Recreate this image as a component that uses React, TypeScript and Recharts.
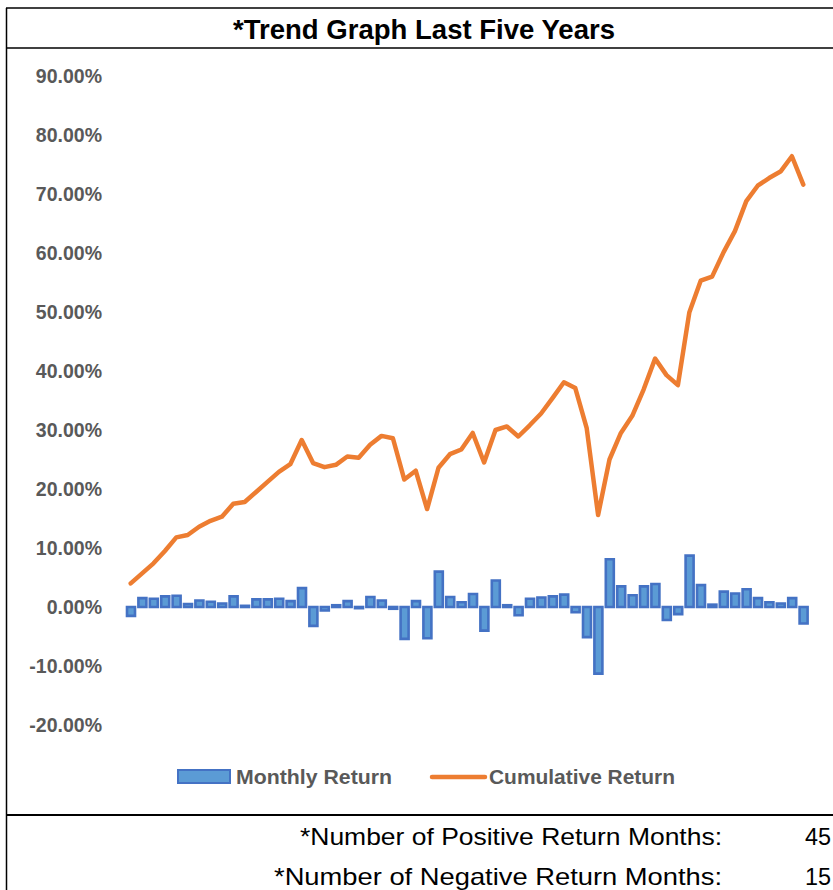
import React from "react";
import { ComposedChart, Bar, Line, XAxis, YAxis } from "recharts";

const months: string[] = Array.from({ length: 60 }, (_, i) => `M${i + 1}`);

const monthlyReturn: number[] = [
  -1.5, 1.5, 1.4, 1.8, 1.9, 0.5, 1.1, 0.9, 0.6, 1.8,
  0.2, 1.3, 1.3, 1.4, 1.0, 3.2, -3.2, -0.6, 0.3, 1.0,
  -0.2, 1.7, 1.1, -0.3, -5.4, 1.0, -5.3, 6.0, 1.7, 0.8,
  2.2, -4.0, 4.5, 0.3, -1.4, 1.4, 1.6, 1.8, 2.1, -0.9,
  -5.1, -11.3, 8.1, 3.5, 2.0, 3.5, 3.9, -2.2, -1.2, 8.7,
  3.7, 0.4, 2.6, 2.3, 3.0, 1.5, 0.8, 0.6, 1.5, -2.8,
];

const cumulativeReturn: number[] = [
  4.0, 5.7, 7.4, 9.5, 11.8, 12.2, 13.6, 14.6, 15.3, 17.5,
  17.8, 19.5, 21.2, 22.9, 24.2, 28.3, 24.4, 23.7, 24.1, 25.5,
  25.3, 27.5, 29.0, 28.6, 21.6, 23.1, 16.6, 23.6, 25.9, 26.7,
  29.5, 24.5, 30.0, 30.6, 28.9, 30.8, 32.8, 35.4, 38.1, 37.1,
  30.3, 15.6, 25.0, 29.5, 32.4, 36.9, 42.1, 39.3, 37.6, 49.9,
  55.3, 56.0, 60.1, 63.7, 68.8, 71.4, 72.7, 73.8, 76.4, 71.6,
];

const yTicks: number[] = [-0.2, -0.1, 0, 0.1, 0.2, 0.3, 0.4, 0.5, 0.6, 0.7, 0.8, 0.9];

const titleText = "*Trend Graph Last Five Years";
const seriesNames = ["Monthly Return", "Cumulative Return"];
const statLabels = ["*Number of Positive Return Months:", "*Number of Negative Return Months:"];
const statValues = ["45", "15"];

const data = months.map((m, i) => ({
  month: m,
  monthly: monthlyReturn[i] / 100,
  cumulative: cumulativeReturn[i] / 100,
}));

const fmt = (v: number) => (v * 100).toFixed(2) + "%";

const YTick = (props: any) => {
  const { y, payload } = props;
  return (
    <text
      x={102}
      y={y}
      dy={7}
      textAnchor="end"
      fill="#595959"
      fontFamily="Liberation Sans, Arial, sans-serif"
      fontWeight="bold"
      fontSize={19.5}
    >
      {fmt(payload.value)}
    </text>
  );
};

export default function App() {
  return (
    <div style={{ position: "relative", width: 833, height: 890, background: "#fff", overflow: "hidden" }}>
      <style>{`body{margin:0;}`}</style>
      <ComposedChart
        width={833}
        height={890}
        data={data}
        margin={{ top: 76, right: 24, bottom: 165, left: 0 }}
      >
        <XAxis dataKey="month" hide />
        <YAxis
          width={125}
          domain={[-0.2, 0.9]}
          ticks={yTicks}
          interval={0}
          tick={<YTick />}
          axisLine={false}
          tickLine={false}
          allowDataOverflow
        />
        <Bar
          dataKey="monthly"
          barSize={8}
          fill="#5B9BD5"
          stroke="#4472C4"
          strokeWidth={2.6}
          isAnimationActive={false}
        />
        <Line
          dataKey="cumulative"
          type="linear"
          stroke="#ED7D31"
          strokeWidth={4.5}
          strokeLinejoin="round"
          strokeLinecap="round"
          dot={false}
          activeDot={false}
          isAnimationActive={false}
        />
      </ComposedChart>
      <svg
        width={833}
        height={890}
        style={{ position: "absolute", left: 0, top: 0, pointerEvents: "none" }}
      >
        <line x1={6.5} y1={8} x2={6.5} y2={890} stroke="#000" strokeWidth={1.5} />
        <line x1={6} y1={8} x2={833} y2={8} stroke="#000" strokeWidth={1.5} />
        <line x1={6} y1={48} x2={833} y2={48} stroke="#000" strokeWidth={1.5} />
        <line x1={6} y1={815} x2={833} y2={815} stroke="#000" strokeWidth={2} />
        <text
          x={424}
          y={39}
          textAnchor="middle"
          fontFamily="Liberation Sans, Arial, sans-serif"
          fontWeight="bold"
          fontSize={27}
          fill="#000"
          textLength={382}
          lengthAdjust="spacingAndGlyphs"
        >
          {titleText}
        </text>
        <rect x={178} y={770} width={52} height={13} fill="#5B9BD5" stroke="#4472C4" strokeWidth={2} />
        <text
          x={236}
          y={783.5}
          fontFamily="Liberation Sans, Arial, sans-serif"
          fontWeight="bold"
          fontSize={20}
          fill="#595959"
          textLength={156}
          lengthAdjust="spacingAndGlyphs"
        >
          {seriesNames[0]}
        </text>
        <line x1={432} y1={777} x2={485} y2={777} stroke="#ED7D31" strokeWidth={4.5} strokeLinecap="round" />
        <text
          x={489}
          y={783.5}
          fontFamily="Liberation Sans, Arial, sans-serif"
          fontWeight="bold"
          fontSize={20}
          fill="#595959"
          textLength={186}
          lengthAdjust="spacingAndGlyphs"
        >
          {seriesNames[1]}
        </text>
        <text
          x={722}
          y={845}
          textAnchor="end"
          fontFamily="Liberation Sans, Arial, sans-serif"
          fontSize={24}
          fill="#000"
          textLength={422}
          lengthAdjust="spacingAndGlyphs"
        >
          {statLabels[0]}
        </text>
        <text x={805} y={845} fontFamily="Liberation Sans, Arial, sans-serif" fontSize={24} fill="#000" textLength={26} lengthAdjust="spacingAndGlyphs">
          {statValues[0]}
        </text>
        <text
          x={722}
          y={885}
          textAnchor="end"
          fontFamily="Liberation Sans, Arial, sans-serif"
          fontSize={24}
          fill="#000"
          textLength={448}
          lengthAdjust="spacingAndGlyphs"
        >
          {statLabels[1]}
        </text>
        <text x={805} y={885} fontFamily="Liberation Sans, Arial, sans-serif" fontSize={24} fill="#000" textLength={26} lengthAdjust="spacingAndGlyphs">
          {statValues[1]}
        </text>
      </svg>
    </div>
  );
}
